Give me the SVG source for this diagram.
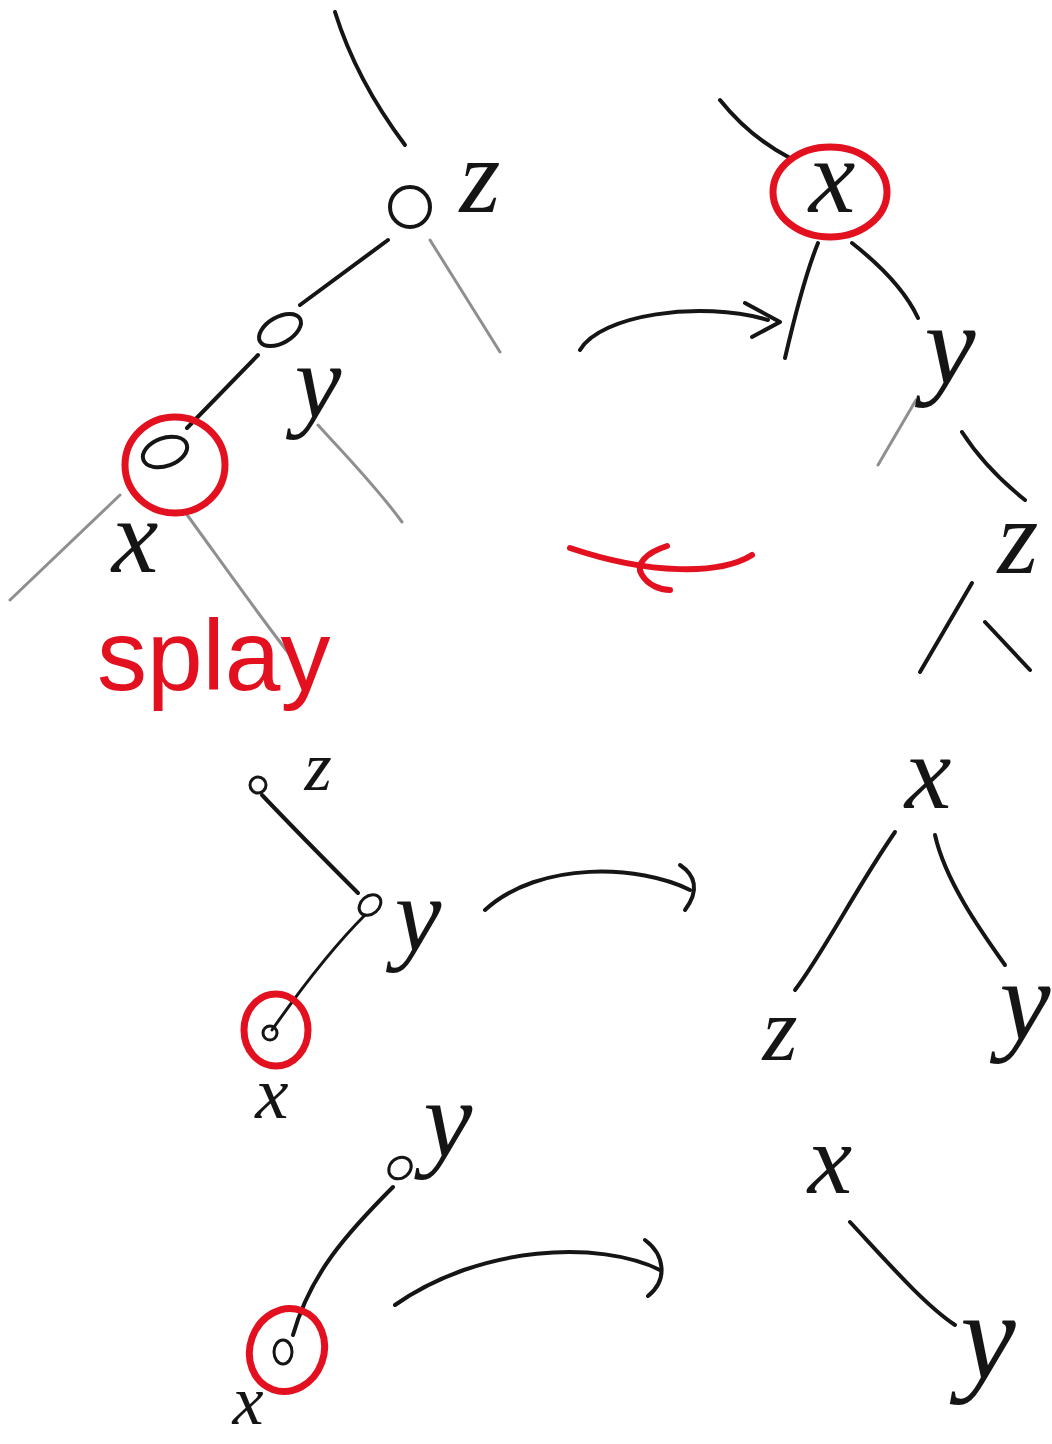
<svg xmlns="http://www.w3.org/2000/svg" width="1052" height="1444" viewBox="0 0 1052 1444">
<defs>
<style>
.ln{fill:none;stroke:#151515;stroke-width:4;stroke-linecap:round;stroke-linejoin:round}
.gr{fill:none;stroke:#333;stroke-opacity:0.55;stroke-width:3;stroke-linecap:round}
.nd{fill:none;stroke:#151515;stroke-width:4}
.rd{fill:none;stroke:#e3101f;stroke-width:7;stroke-linecap:round;stroke-linejoin:round}
.lb{font-family:"Liberation Serif","DejaVu Serif",serif;font-style:italic;fill:#151515;text-anchor:middle}
.sp{font-family:"Liberation Sans","DejaVu Sans",sans-serif;fill:#e3101f;font-size:100px}
</style>
</defs>
<rect width="1052" height="1444" fill="#fff"/>
<g id="connectors">
<path class="ln" d="M335,12 C350,60 375,105 405,145"/>
<path class="ln" d="M388,240 L300,305"/>
<path class="ln" d="M258,355 L187,428"/>
<path class="gr" d="M120,495 L10,600"/>
<path class="gr" d="M185,512 C220,560 255,610 290,655"/>
<path class="gr" d="M430,240 C455,280 480,320 500,352"/>
<path class="gr" d="M318,425 C345,455 375,485 402,522"/>
<path class="ln" d="M580,350 C600,315 700,300 768,320"/>
<path class="ln" d="M745,303 L780,322 L752,337"/>
<path class="ln" d="M720,100 C740,125 765,145 790,158"/>
<path class="ln" d="M818,243 C805,275 795,315 785,358"/>
<path class="ln" d="M852,243 C880,265 905,290 918,318"/>
<path class="gr" d="M916,400 L878,465"/>
<path class="ln" d="M962,432 C980,460 1000,480 1025,500"/>
<path class="ln" d="M972,583 L920,672"/>
<path class="ln" d="M985,622 L1030,670"/>
<path class="rd" d="M752,555 C720,575 650,575 570,548" style="stroke-width:6"/>
<path class="rd" d="M667,546 C645,553 635,565 642,575 C648,585 660,590 670,590" style="stroke-width:6"/>
<path class="ln" d="M262,795 C300,835 330,865 358,893"/>
<path class="ln" d="M365,915 C330,950 300,990 272,1030" style="stroke-width:3"/>
<path class="ln" d="M485,910 C540,860 640,865 690,890"/>
<path class="ln" d="M680,865 C695,875 700,890 685,910"/>
<path class="ln" d="M895,832 C855,890 825,950 795,990"/>
<path class="ln" d="M935,835 C945,880 980,930 1005,965"/>
<path class="ln" d="M393,1187 C345,1235 310,1275 293,1335"/>
<path class="ln" d="M395,1305 C480,1245 600,1240 660,1270"/>
<path class="ln" d="M645,1240 C665,1255 668,1280 648,1296"/>
<path class="ln" d="M850,1222 C890,1265 925,1305 955,1325"/>
</g>
<g id="node-z1"><circle class="nd" cx="410" cy="207" r="20"/><text class="lb" x="480" y="212" font-size="105">z</text></g>
<g id="node-y1"><ellipse class="nd" cx="280" cy="330" rx="23" ry="13" transform="rotate(-30 280 330)"/><text class="lb" x="318" y="417" font-size="105">y</text></g>
<g id="node-x1"><ellipse class="nd" cx="165" cy="452" rx="23" ry="14" transform="rotate(-20 165 452)"/><ellipse class="rd" cx="175" cy="465" rx="50" ry="48"/><text class="lb" x="135" y="572" font-size="105">x</text></g>
<g id="label-splay"><text class="sp" x="97" y="690">splay</text></g>
<g id="node-x2"><text class="lb" x="832" y="212" font-size="105">x</text><ellipse class="rd" cx="830" cy="192" rx="57" ry="45"/></g>
<g id="node-y2"><text class="lb" x="950" y="384" font-size="115">y</text></g>
<g id="node-z2"><text class="lb" x="1018" y="573" font-size="105">z</text></g>
<g id="node-z3"><circle class="nd" cx="258" cy="785" r="8" style="stroke-width:3"/><text class="lb" x="318" y="790" font-size="70">z</text></g>
<g id="node-y3"><ellipse class="nd" cx="370" cy="905" rx="12" ry="9" transform="rotate(-40 370 905)" style="stroke-width:3"/><text class="lb" x="418" y="950" font-size="105">y</text></g>
<g id="node-x3"><circle class="nd" cx="270" cy="1033" r="7" style="stroke-width:3"/><ellipse class="rd" cx="276" cy="1030" rx="32" ry="36"/><text class="lb" x="272" y="1118" font-size="75">x</text></g>
<g id="node-x4"><text class="lb" x="928" y="808" font-size="105">x</text></g>
<g id="node-z4"><text class="lb" x="780" y="1060" font-size="90">z</text></g>
<g id="node-y4"><text class="lb" x="1025" y="1040" font-size="115">y</text></g>
<g id="node-y5"><ellipse class="nd" cx="400" cy="1168" rx="12" ry="10" transform="rotate(-40 400 1168)" style="stroke-width:3"/><text class="lb" x="448" y="1157" font-size="110">y</text></g>
<g id="node-x5"><ellipse class="nd" cx="283" cy="1352" rx="9" ry="12" style="stroke-width:3"/><ellipse class="rd" cx="287" cy="1350" rx="37" ry="42" transform="rotate(20 287 1350)"/><text class="lb" x="248" y="1424" font-size="70">x</text></g>
<g id="node-x6"><text class="lb" x="830" y="1193" font-size="100">x</text></g>
<g id="node-y6"><text class="lb" x="988" y="1378" font-size="125">y</text></g>
</svg>
